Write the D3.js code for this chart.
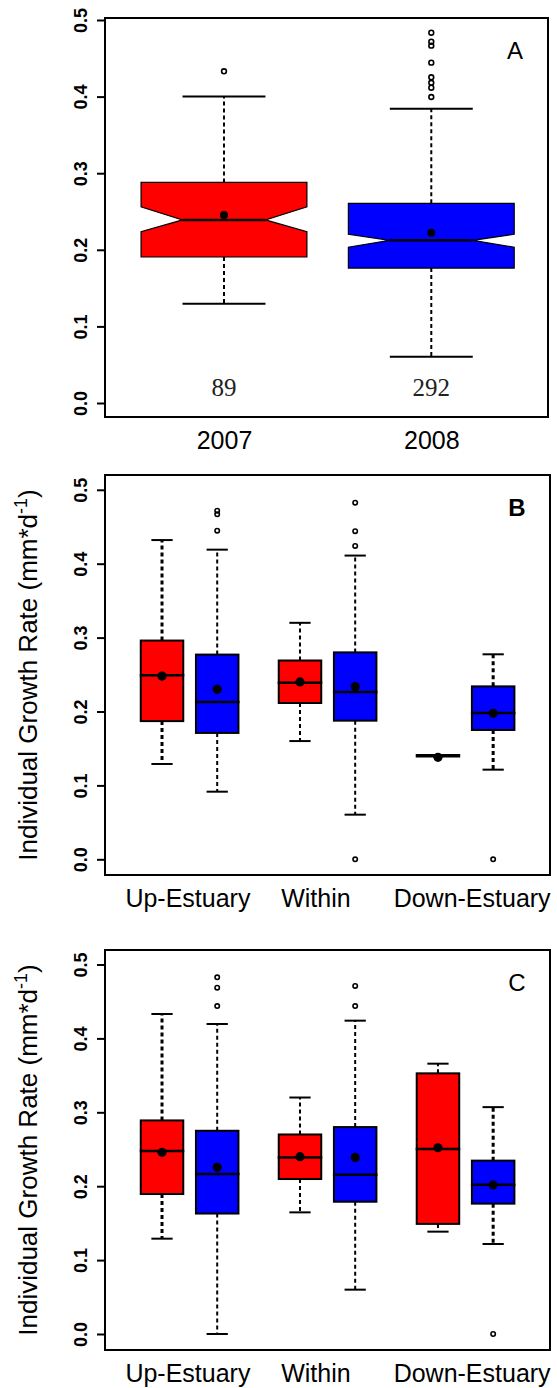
<!DOCTYPE html>
<html><head><meta charset="utf-8">
<script src="https://cdn.jsdelivr.net/npm/d3@7"></script>
<style>body{margin:0;background:#fff}svg{display:block}</style>
</head><body><svg id="c" width="557" height="1388"></svg>
<script>
// ---------------- data ----------------
const yTicks = [0, 0.1, 0.2, 0.3, 0.4, 0.5];

// Panel A: years
const yearsA = ["2007", "2008"];
const countsA = ["89", "292"];
// [lower whisker, Q1, median, Q3, upper whisker]
const statsA = [[0.1296, 0.1906, 0.239, 0.288, 0.400], [0.0605, 0.1762, 0.2124, 0.2607, 0.3842]];
const notchA = [[0.2236, 0.256], [0.2033, 0.2202]];
const meansA = [0.2454, 0.2223];
const outliersA = [[0.433], [0.3995, 0.4116, 0.4181, 0.4252, 0.4443, 0.4665, 0.4717, 0.4834]];

// Panels B & C: regions x years
const regions = ["Up-Estuary", "Within", "Down-Estuary"];
const regionPos = [1.46, 3.78, 6.61];
const boxYears = ["2007", "2008", "2007", "2008", "2007", "2008"];
const boxPos = [1, 2, 3.5, 4.5, 6, 7];

const statsB = [
  [0.129, 0.187, 0.249, 0.296, 0.432],
  [0.0915, 0.171, 0.213, 0.277, 0.419],
  [0.160, 0.2115, 0.239, 0.269, 0.320],
  [0.0604, 0.1876, 0.2264, 0.280, 0.411],
  [0.140, 0.140, 0.140, 0.140, 0.140],
  [0.1213, 0.175, 0.198, 0.234, 0.2774]
];
const meansB = [0.248, 0.230, 0.240, 0.2336, 0.138, 0.1976];
const outliersB = [[], [0.4447, 0.4668, 0.4717], [], [0.0, 0.424, 0.444, 0.4826], [], [0.0]];

const statsC = [
  [0.129, 0.1894, 0.2476, 0.289, 0.433],
  [0.0, 0.163, 0.2165, 0.275, 0.4195],
  [0.1646, 0.2097, 0.239, 0.270, 0.320],
  [0.060, 0.179, 0.2156, 0.280, 0.424],
  [0.1385, 0.149, 0.2503, 0.3527, 0.3658],
  [0.1218, 0.1764, 0.2021, 0.2346, 0.307]
];
const meansC = [0.2458, 0.2256, 0.240, 0.239, 0.252, 0.2016];
const outliersC = [[], [0.4438, 0.4686, 0.4827], [], [0.4438, 0.471], [], [0.0]];

// ---------------- drawing ----------------
const FONT = "'Liberation Sans', Arial, Helvetica, sans-serif";
const SERIF = "'Liberation Serif', 'Times New Roman', serif";
const colors = { "2007": "#ff0000", "2008": "#0000ff" };
const svg = d3.select("#c");

function frameRect(frame) {
  svg.append("rect").attr("x", frame.l).attr("y", frame.t)
    .attr("width", frame.r - frame.l).attr("height", frame.b - frame.t)
    .attr("fill", "none").attr("stroke", "#000").attr("stroke-width", 2);
}

function yAxis(y, frame) {
  const ax = d3.axisLeft(y).tickValues(yTicks).tickSize(8).tickFormat(d3.format(".1f"));
  const a = svg.append("g").attr("transform", `translate(${frame.l},0)`).call(ax);
  a.select(".domain").remove();
  a.selectAll(".tick line").attr("stroke", "#000").attr("stroke-width", 2);
  a.selectAll(".tick text").attr("x", null).attr("dy", null).attr("y", null)
    .attr("transform", "translate(-18.5,0) rotate(-90)").attr("text-anchor", "middle")
    .attr("fill", "#000")
    .style("font-family", FONT).style("font-weight", "bold").style("font-size", "18px");
}

function xAxis(x, frame, vals, labels) {
  const ax = d3.axisBottom(x).tickValues(vals).tickSize(0).tickFormat((d, i) => labels[i]);
  const a = svg.append("g").attr("transform", `translate(0,${frame.b})`).call(ax);
  a.select(".domain").remove();
  a.selectAll(".tick text").attr("y", 32).attr("dy", null).attr("fill", "#000")
    .style("font-family", FONT).style("font-size", "25px");
}

function yTitle(frame) {
  const t = svg.append("text")
    .attr("transform", `translate(37,${(frame.t + frame.b) / 2}) rotate(-90)`)
    .attr("text-anchor", "middle")
    .style("font-family", FONT).style("font-size", "26px").attr("fill", "#000");
  t.append("tspan").text("Individual Growth Rate (mm*d");
  t.append("tspan").attr("dy", -10).style("font-size", "18px").text("-1");
  t.append("tspan").attr("dy", 10).text(")");
}

function panelLabel(frame, txt, bold) {
  svg.append("text").attr("x", frame.r - 33).attr("y", frame.t + 32).attr("dy", "0.36em")
    .attr("text-anchor", "middle").style("font-family", FONT)
    .style("font-size", "24px").style("font-weight", bold ? "bold" : "normal")
    .attr("fill", "#000").text(txt);
}

function drawBoxes(x, y, pos, stats, means, outliers, years, opts) {
  const g = svg.append("g");
  stats.forEach((s, i) => {
    const cx = x(pos[i]);
    const w = x(pos[i] + opts.bw / 2) - x(pos[i] - opts.bw / 2);
    const col = colors[years[i]];
    const wl = opts.thick && opts.thick.has(i) ? 3 : 2;
    // whiskers
    [[s[3], s[4]], [s[1], s[0]]].forEach(([a, b]) => {
      if (a !== b) g.append("line").attr("x1", cx).attr("x2", cx).attr("y1", y(a)).attr("y2", y(b))
        .attr("stroke", "#000").attr("stroke-width", wl).attr("stroke-dasharray", "4,3");
    });
    // staples
    [s[0], s[4]].forEach(v => {
      g.append("line").attr("x1", cx - w / 4).attr("x2", cx + w / 4).attr("y1", y(v)).attr("y2", y(v))
        .attr("stroke", "#000").attr("stroke-width", 2);
    });
    // box
    const L = cx - w / 2, R = cx + w / 2;
    if (opts.notch) {
      const n = opts.notch[i];
      const pts = [[L, y(s[1])], [L, y(n[0])], [cx - w / 4, y(s[2])], [L, y(n[1])], [L, y(s[3])],
                   [R, y(s[3])], [R, y(n[1])], [cx + w / 4, y(s[2])], [R, y(n[0])], [R, y(s[1])]];
      g.append("path").attr("d", d3.line()(pts) + "Z").attr("fill", col)
        .attr("stroke", "#000").attr("stroke-width", 1.2);
      g.append("line").attr("x1", cx - w / 4).attr("x2", cx + w / 4).attr("y1", y(s[2])).attr("y2", y(s[2]))
        .attr("stroke", "#000").attr("stroke-width", 2.5);
    } else {
      g.append("rect").attr("x", L).attr("y", y(s[3])).attr("width", w).attr("height", y(s[1]) - y(s[3]))
        .attr("fill", col).attr("stroke", "#000").attr("stroke-width", 2);
      g.append("line").attr("x1", L - 1).attr("x2", R + 1).attr("y1", y(s[2])).attr("y2", y(s[2]))
        .attr("stroke", "#000").attr("stroke-width", s[1] === s[3] ? 3.5 : 2.5);
    }
    // mean
    g.append("circle").attr("cx", cx).attr("cy", y(means[i])).attr("r", opts.meanR).attr("fill", "#000");
    // outliers
    outliers[i].forEach(v => {
      g.append("circle").attr("cx", cx).attr("cy", y(v)).attr("r", opts.outR)
        .attr("fill", "none").attr("stroke", "#000").attr("stroke-width", 1.6);
    });
  });
}

// ---- Panel A ----
const frameA = { l: 105, r: 548, t: 18, b: 417 };
const xA = d3.scaleLinear().domain([0.426, 2.563]).range([frameA.l, frameA.r]);
const yA = d3.scaleLinear().domain([0, 0.5]).range([403, 20]);
drawBoxes(xA, yA, [1, 2], statsA, meansA, outliersA, yearsA, { bw: 0.8, notch: notchA, meanR: 4, outR: 2.4 });
countsA.forEach((c, i) => {
  svg.append("text").attr("x", xA(i + 1)).attr("y", frameA.b - 21.5).attr("text-anchor", "middle")
    .style("font-family", SERIF).style("font-size", "25px").attr("fill", "#222").text(c);
});
frameRect(frameA);
yAxis(yA, frameA);
xAxis(xA, frameA, [1, 2], yearsA);
panelLabel(frameA, "A", false);

// ---- Panel B ----
const frameB = { l: 105, r: 550, t: 475, b: 875 };
const xB = d3.scaleLinear().domain([-0.033, 8.03]).range([frameB.l, frameB.r]);
const yB = d3.scaleLinear().domain([0, 0.5]).range([859.3, 489.8]);
drawBoxes(xB, yB, boxPos, statsB, meansB, outliersB, boxYears, { bw: 0.77, meanR: 4.6, outR: 2.2, thick: new Set([0, 5]) });
frameRect(frameB);
yAxis(yB, frameB);
xAxis(xB, frameB, regionPos, regions);
yTitle(frameB);
panelLabel(frameB, "B", true);

// ---- Panel C ----
const frameC = { l: 105, r: 550, t: 950, b: 1350 };
const xC = d3.scaleLinear().domain([-0.033, 8.03]).range([frameC.l, frameC.r]);
const yC = d3.scaleLinear().domain([0, 0.5]).range([1334, 964.5]);
drawBoxes(xC, yC, boxPos, statsC, meansC, outliersC, boxYears, { bw: 0.77, meanR: 4.6, outR: 2.2, thick: new Set([0, 5]) });
frameRect(frameC);
yAxis(yC, frameC);
xAxis(xC, frameC, regionPos, regions);
yTitle(frameC);
panelLabel(frameC, "C", false);
</script>
</body></html>
